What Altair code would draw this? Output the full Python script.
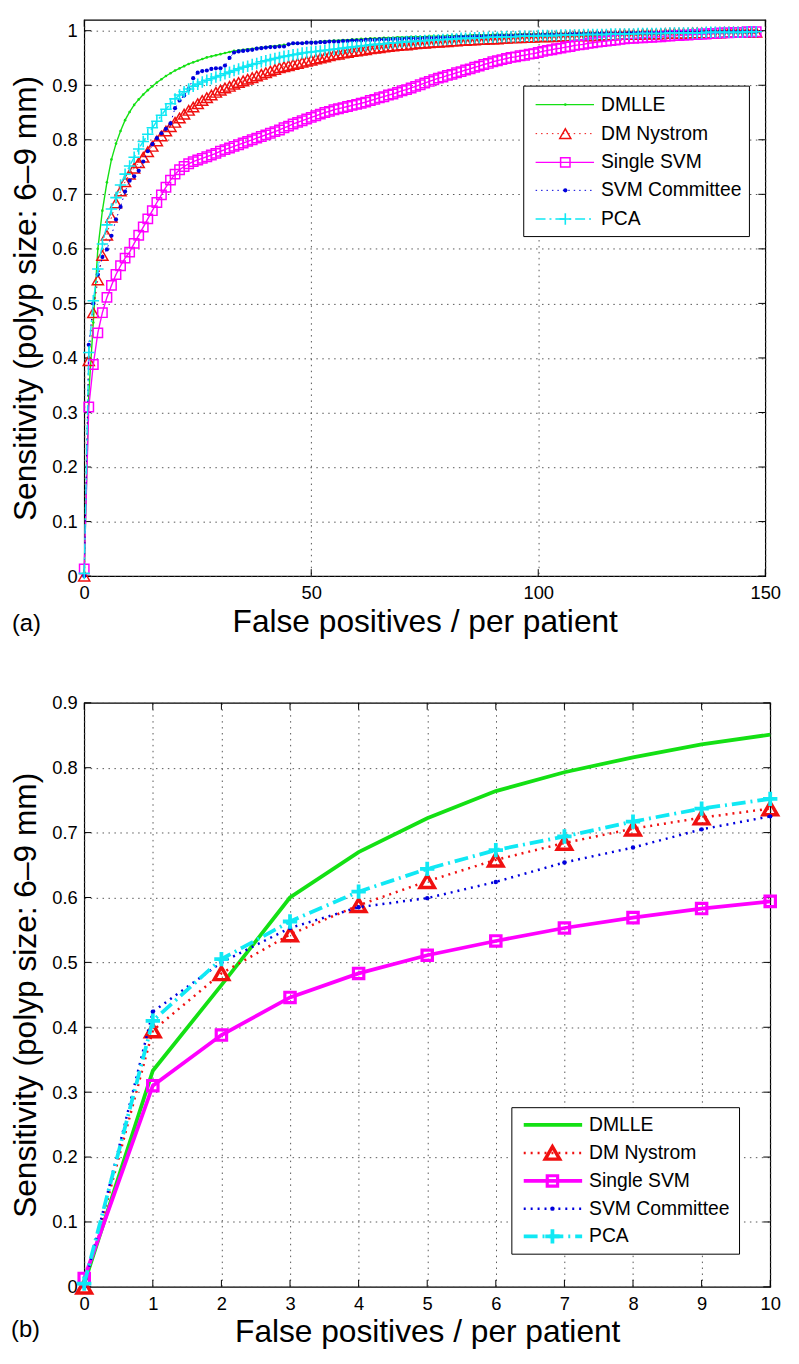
import altair as alt
import pandas as pd

FONT = "Liberation Sans"

SERIES = ["DMLLE", "DM Nystrom", "Single SVM", "SVM Committee", "PCA"]
COLORS = ["#14e014", "#f01010", "#ff00ff", "#0000dd", "#10e8f4"]

# one measured point per false positive / patient: 0 .. 148 (top); bottom panel shows 0 .. 10
X_TOP = list(range(0, 149))
X_BOTTOM = list(range(0, 11))

DMLLE = [0.005, 0.333, 0.465, 0.600, 0.670, 0.722, 0.764, 0.793, 0.816, 0.836, 0.851,
         0.864, 0.874, 0.883, 0.891, 0.898, 0.905, 0.911, 0.917, 0.922, 0.927,
         0.931, 0.935, 0.939, 0.942, 0.945, 0.948, 0.951, 0.953, 0.955, 0.957,
         0.959, 0.961, 0.963, 0.964, 0.965, 0.966, 0.967, 0.968, 0.969, 0.970,
         0.971, 0.972, 0.973, 0.974, 0.975, 0.976, 0.977, 0.977, 0.978, 0.979,
         0.979, 0.980, 0.981, 0.981, 0.982, 0.982, 0.983, 0.983, 0.984, 0.984,
         0.985, 0.985, 0.986, 0.986, 0.986, 0.987, 0.987, 0.987, 0.988, 0.988,
         0.988, 0.989, 0.989, 0.989, 0.989, 0.990, 0.990, 0.990, 0.990, 0.991,
         0.991, 0.991, 0.991, 0.991, 0.992, 0.992, 0.992, 0.992, 0.992, 0.993,
         0.993, 0.993, 0.993, 0.993, 0.993, 0.994, 0.994, 0.994, 0.994, 0.994,
         0.994, 0.995, 0.995, 0.995, 0.995, 0.995, 0.995, 0.995, 0.996, 0.996,
         0.996, 0.996, 0.996, 0.996, 0.996, 0.996, 0.996, 0.997, 0.997, 0.997,
         0.997, 0.997, 0.997, 0.997, 0.997, 0.997, 0.997, 0.998, 0.998, 0.998,
         0.998, 0.998, 0.998, 0.998, 0.998, 0.998, 0.998, 0.998, 0.998, 0.999,
         0.999, 0.999, 0.999, 0.999, 0.999, 0.999, 0.999, 0.999]

DM_NYSTROM = [0.000, 0.395, 0.483, 0.543, 0.588, 0.625, 0.658, 0.684, 0.706, 0.723, 0.737,
              0.748, 0.758, 0.768, 0.778, 0.788, 0.798, 0.807, 0.816, 0.824, 0.832,
              0.840, 0.847, 0.854, 0.860, 0.866, 0.872, 0.877, 0.882, 0.887, 0.891,
              0.895, 0.898, 0.902, 0.905, 0.908, 0.911, 0.914, 0.917, 0.920, 0.923,
              0.926, 0.929, 0.932, 0.934, 0.936, 0.938, 0.940, 0.942, 0.944, 0.946,
              0.948, 0.950, 0.952, 0.954, 0.956, 0.957, 0.959, 0.960, 0.962, 0.963,
              0.964, 0.965, 0.967, 0.968, 0.969, 0.970, 0.971, 0.972, 0.973, 0.974,
              0.974, 0.975, 0.976, 0.977, 0.977, 0.978, 0.979, 0.979, 0.980, 0.980,
              0.981, 0.981, 0.982, 0.982, 0.983, 0.983, 0.984, 0.984, 0.985, 0.985,
              0.985, 0.986, 0.986, 0.987, 0.987, 0.987, 0.988, 0.988, 0.988, 0.989,
              0.989, 0.989, 0.989, 0.990, 0.990, 0.990, 0.990, 0.991, 0.991, 0.991,
              0.991, 0.991, 0.991, 0.992, 0.992, 0.992, 0.992, 0.993, 0.993, 0.993,
              0.993, 0.993, 0.994, 0.994, 0.994, 0.994, 0.994, 0.995, 0.995, 0.995,
              0.995, 0.995, 0.995, 0.996, 0.996, 0.996, 0.996, 0.996, 0.996, 0.996,
              0.997, 0.997, 0.997, 0.997, 0.997, 0.997, 0.997, 0.997]

SINGLE_SVM = [0.013, 0.310, 0.388, 0.446, 0.483, 0.511, 0.533, 0.553, 0.569, 0.583, 0.594,
              0.610, 0.625, 0.640, 0.655, 0.670, 0.685, 0.699, 0.713, 0.726, 0.737,
              0.745, 0.751, 0.756, 0.760, 0.763, 0.766, 0.769, 0.772, 0.775, 0.779,
              0.782, 0.785, 0.788, 0.791, 0.794, 0.797, 0.800, 0.803, 0.806, 0.809,
              0.812, 0.815, 0.818, 0.822, 0.825, 0.829, 0.832, 0.835, 0.838, 0.841,
              0.844, 0.847, 0.850, 0.852, 0.855, 0.857, 0.859, 0.861, 0.863, 0.865,
              0.867, 0.869, 0.872, 0.874, 0.877, 0.879, 0.882, 0.884, 0.887, 0.890,
              0.892, 0.895, 0.898, 0.901, 0.904, 0.907, 0.910, 0.913, 0.915, 0.918,
              0.920, 0.923, 0.925, 0.928, 0.930, 0.933, 0.935, 0.938, 0.940, 0.943,
              0.945, 0.947, 0.949, 0.951, 0.952, 0.954, 0.955, 0.957, 0.958, 0.960,
              0.962, 0.964, 0.965, 0.967, 0.968, 0.970, 0.971, 0.973, 0.974, 0.975,
              0.977, 0.978, 0.979, 0.980, 0.981, 0.982, 0.983, 0.984, 0.985, 0.986,
              0.986, 0.987, 0.987, 0.988, 0.988, 0.989, 0.989, 0.990, 0.990, 0.991,
              0.991, 0.992, 0.992, 0.993, 0.993, 0.994, 0.994, 0.995, 0.995, 0.996,
              0.996, 0.996, 0.997, 0.997, 0.997, 0.998, 0.998, 0.998]

SVM_COMMITTEE = [0.000, 0.424, 0.500, 0.553, 0.585, 0.599, 0.624, 0.654, 0.677, 0.705, 0.725,
                 0.733, 0.743, 0.760, 0.779, 0.792, 0.803, 0.812, 0.820, 0.830, 0.858,
                 0.872, 0.881, 0.893, 0.913, 0.923, 0.926, 0.927, 0.930, 0.931, 0.931,
                 0.936, 0.950, 0.960, 0.962, 0.963, 0.964, 0.965, 0.967, 0.968, 0.969,
                 0.970, 0.970, 0.971, 0.971, 0.975, 0.977, 0.977, 0.977, 0.978, 0.978,
                 0.978, 0.979, 0.979, 0.980, 0.980, 0.980, 0.981, 0.981, 0.982, 0.982,
                 0.982, 0.983, 0.983, 0.983, 0.984, 0.984, 0.984, 0.985, 0.985, 0.985,
                 0.986, 0.986, 0.986, 0.986, 0.987, 0.987, 0.987, 0.988, 0.988, 0.988,
                 0.988, 0.989, 0.989, 0.989, 0.989, 0.990, 0.990, 0.990, 0.990, 0.990,
                 0.991, 0.991, 0.991, 0.991, 0.991, 0.992, 0.992, 0.992, 0.992, 0.992,
                 0.993, 0.993, 0.993, 0.993, 0.993, 0.993, 0.994, 0.994, 0.994, 0.994,
                 0.994, 0.994, 0.995, 0.995, 0.995, 0.995, 0.995, 0.995, 0.995, 0.996,
                 0.996, 0.996, 0.996, 0.996, 0.996, 0.996, 0.996, 0.997, 0.997, 0.997,
                 0.997, 0.997, 0.997, 0.997, 0.997, 0.997, 0.998, 0.998, 0.998, 0.998,
                 0.998, 0.998, 0.998, 0.998, 0.998, 0.998, 0.998, 0.998]

PCA = [0.005, 0.410, 0.505, 0.563, 0.609, 0.644, 0.673, 0.694, 0.717, 0.737, 0.752,
       0.768, 0.783, 0.797, 0.810, 0.822, 0.834, 0.845, 0.856, 0.866, 0.875,
       0.882, 0.888, 0.893, 0.898, 0.902, 0.906, 0.909, 0.912, 0.915, 0.918,
       0.921, 0.924, 0.927, 0.930, 0.933, 0.935, 0.938, 0.940, 0.943, 0.945,
       0.947, 0.949, 0.951, 0.953, 0.954, 0.956, 0.957, 0.959, 0.960, 0.961,
       0.962, 0.963, 0.964, 0.965, 0.966, 0.967, 0.968, 0.969, 0.970, 0.971,
       0.972, 0.973, 0.974, 0.975, 0.975, 0.976, 0.977, 0.978, 0.978, 0.979,
       0.980, 0.980, 0.981, 0.981, 0.982, 0.982, 0.983, 0.983, 0.984, 0.984,
       0.985, 0.985, 0.986, 0.986, 0.986, 0.987, 0.987, 0.987, 0.988, 0.988,
       0.988, 0.989, 0.989, 0.989, 0.989, 0.990, 0.990, 0.990, 0.990, 0.991,
       0.991, 0.991, 0.991, 0.991, 0.992, 0.992, 0.992, 0.992, 0.992, 0.993,
       0.993, 0.993, 0.993, 0.993, 0.993, 0.994, 0.994, 0.994, 0.994, 0.994,
       0.994, 0.995, 0.995, 0.995, 0.995, 0.995, 0.995, 0.995, 0.996, 0.996,
       0.996, 0.996, 0.996, 0.996, 0.996, 0.996, 0.997, 0.997, 0.997, 0.997,
       0.997, 0.997, 0.997, 0.997, 0.997, 0.998, 0.998, 0.998]

VALUES = [DMLLE, DM_NYSTROM, SINGLE_SVM, SVM_COMMITTEE, PCA]

X_TICKS_TOP = [0, 50, 100, 150]
Y_TICKS_TOP = [0, 0.1, 0.2, 0.3, 0.4, 0.5, 0.6, 0.7, 0.8, 0.9, 1]
X_TICKS_BOTTOM = [0, 1, 2, 3, 4, 5, 6, 7, 8, 9, 10]
Y_TICKS_BOTTOM = [0, 0.1, 0.2, 0.3, 0.4, 0.5, 0.6, 0.7, 0.8, 0.9]

X_TITLE = "False positives / per patient"
Y_TITLE = "Sensitivity (polyp size: 6\u20139 mm)"

PLUS = "M-1,0L1,0M0,-1L0,1"

TOP_STYLE = {
    "DMLLE": dict(lw=1.4, dash=None, shape="circle", filled=True, size=7, mw=0),
    "DM Nystrom": dict(lw=1.0, dash=[1.5, 4], shape="triangle-up", filled=False, size=125, mw=1.5),
    "Single SVM": dict(lw=1.4, dash=None, shape="square", filled=False, size=90, mw=1.5),
    "SVM Committee": dict(lw=1.0, dash=[1.5, 4], shape="circle", filled=True, size=18, mw=0),
    "PCA": dict(lw=1.4, dash=[10, 4, 2, 4], shape=PLUS, filled=False, size=135, mw=1.6),
}
BOTTOM_STYLE = {
    "DMLLE": dict(lw=3.8, dash=None, shape=None, filled=True, size=0, mw=0),
    "DM Nystrom": dict(lw=2.5, dash=[2, 5], shape="triangle-up", filled=False, size=210, mw=3.5),
    "Single SVM": dict(lw=3.8, dash=None, shape="square", filled=False, size=110, mw=3.2),
    "SVM Committee": dict(lw=2.5, dash=[2, 5], shape="circle", filled=True, size=20, mw=0),
    "PCA": dict(lw=3.8, dash=[14, 5, 2, 5], shape=PLUS, filled=False, size=210, mw=3.8),
}

TICK_LEN = 7


def line_marks(df, color, s, enc):
    out = []
    kw = dict(color=color, strokeWidth=s["lw"])
    if s["dash"]:
        kw["strokeDash"] = s["dash"]
    out.append(alt.Chart(df).mark_line(**kw).encode(**enc))
    if s["shape"]:
        pkw = dict(shape=s["shape"], size=s["size"], color=color, filled=s["filled"], opacity=1)
        if not s["filled"]:
            pkw["strokeWidth"] = s["mw"]
        out.append(alt.Chart(df).mark_point(**pkw).encode(**enc))
    return out


def panel(xs, ys_list, xdom, ydom, xt, yt, w, h, style, leg, tag, tagpos):
    xenc = alt.X("x:Q", scale=alt.Scale(domain=xdom, nice=False, zero=False),
                 axis=alt.Axis(values=xt, title=X_TITLE, labelFlush=False, labelOverlap=False,
                               labelPadding=8, titlePadding=4))
    yenc = alt.Y("y:Q", scale=alt.Scale(domain=ydom, nice=False, zero=False),
                 axis=alt.Axis(values=yt, title=Y_TITLE, format="~g", labelOverlap=False,
                               labelPadding=7, titlePadding=10))
    enc = dict(x=xenc, y=yenc)
    layers = []

    # inward tick marks on all four sides
    xtdf = pd.DataFrame({"x": xt})
    ytdf = pd.DataFrame({"y": yt})
    tick_kw = dict(color="black", strokeWidth=1)
    layers.append(alt.Chart(xtdf).mark_rule(**tick_kw).encode(
        x=xenc, y=alt.value(h), y2=alt.value(h - TICK_LEN)))
    layers.append(alt.Chart(xtdf).mark_rule(**tick_kw).encode(
        x=xenc, y=alt.value(0), y2=alt.value(TICK_LEN)))
    layers.append(alt.Chart(ytdf).mark_rule(**tick_kw).encode(
        y=yenc, x=alt.value(0), x2=alt.value(TICK_LEN)))
    layers.append(alt.Chart(ytdf).mark_rule(**tick_kw).encode(
        y=yenc, x=alt.value(w), x2=alt.value(w - TICK_LEN)))

    for name, color, ys in zip(SERIES, COLORS, ys_list):
        df = pd.DataFrame({"x": xs, "y": ys})
        layers += line_marks(df, color, style[name], enc)

    one = pd.DataFrame({"k": [0]})
    bx0, bx1, by0, by1, lx0, lx1, mx, tx, rows = leg
    layers.append(alt.Chart(one).mark_rect(fill="white", stroke="black", strokeWidth=1).encode(
        x=alt.value(bx0), x2=alt.value(bx1), y=alt.value(by0), y2=alt.value(by1)))
    for name, color, ry in zip(SERIES, COLORS, rows):
        s = style[name]
        kw = dict(color=color, strokeWidth=s["lw"])
        if s["dash"]:
            kw["strokeDash"] = s["dash"]
        layers.append(alt.Chart(one).mark_rule(**kw).encode(
            x=alt.value(lx0), x2=alt.value(lx1), y=alt.value(ry)))
        if s["shape"]:
            pkw = dict(shape=s["shape"], size=s["size"], color=color, filled=s["filled"], opacity=1)
            if not s["filled"]:
                pkw["strokeWidth"] = s["mw"]
            layers.append(alt.Chart(one).mark_point(**pkw).encode(x=alt.value(mx), y=alt.value(ry)))
        layers.append(alt.Chart(one).mark_text(align="left", baseline="middle", font=FONT,
                                               fontSize=19.5, color="black", text=name).encode(
            x=alt.value(tx), y=alt.value(ry)))
    layers.append(alt.Chart(one).mark_text(align="left", baseline="alphabetic", font=FONT,
                                           fontSize=24, color="black", text=tag).encode(
        x=alt.value(tagpos[0]), y=alt.value(tagpos[1])))
    return alt.layer(*layers).properties(width=w, height=h)


top = panel(X_TOP, VALUES, [0, 150], [0, 1.02], X_TICKS_TOP, Y_TICKS_TOP, 688, 562, TOP_STYLE,
            (444, 672, 67, 219, 456, 515, 486, 522, [85.7, 115, 144, 172.3, 201.3]),
            "(a)", (-73, 617))
bottom = panel(X_BOTTOM, [v[:11] for v in VALUES], [0, 10], [0, 0.9], X_TICKS_BOTTOM, Y_TICKS_BOTTOM,
               693, 590, BOTTOM_STYLE,
               (432, 662, 409, 557, 444, 503, 473, 510, [426.3, 454.7, 483, 511, 539]),
               "(b)", (-74, 641))

chart = alt.vconcat(top, bottom, spacing=55).configure(
    padding={"left": 0, "top": 3, "right": 5, "bottom": 5},
    background="white",
).configure_view(stroke="black", strokeWidth=1.2).configure_axis(
    labelFont=FONT, labelFontSize=18.5, labelColor="black",
    titleFont=FONT, titleFontSize=32, titleFontWeight="normal", titleColor="black",
    grid=True, gridColor="#444444", gridDash=[1.5, 4.5], gridWidth=1, gridOpacity=0.9,
    domain=False, ticks=False,
)

chart.save("out.html", embed_options={"renderer": "svg", "actions": False})
